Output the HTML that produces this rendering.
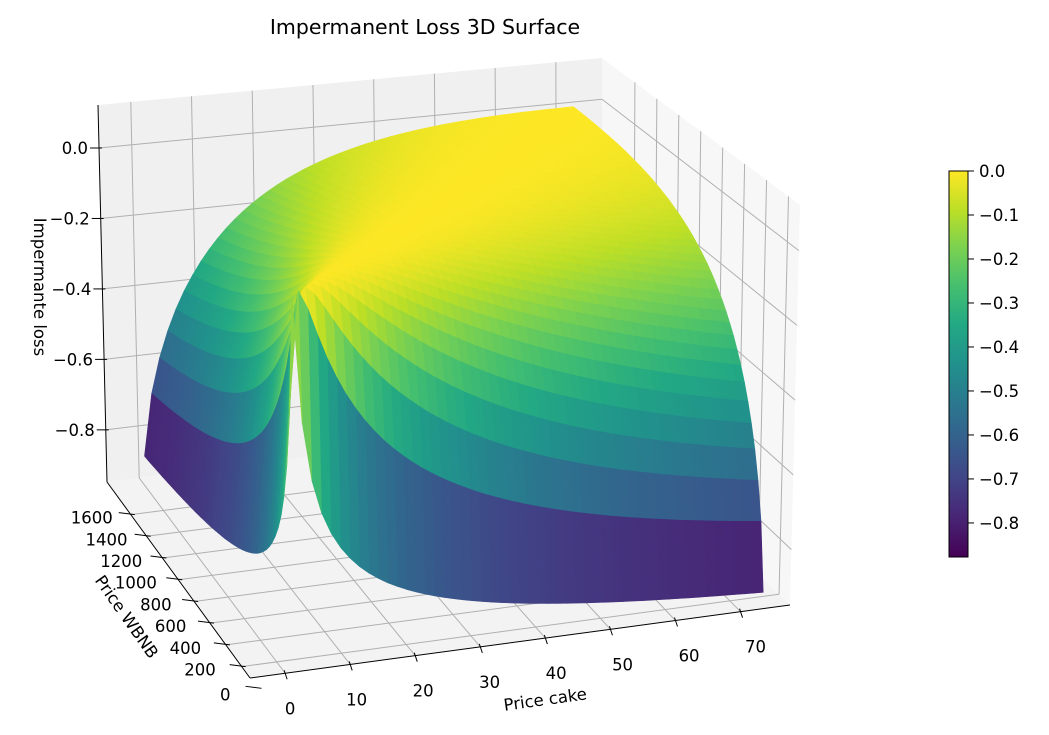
<!DOCTYPE html>
<html><head><meta charset="utf-8"><style>
html,body{margin:0;padding:0;background:#fff;}
svg{display:block;font-family:"DejaVu Sans","Liberation Sans",sans-serif;}
</style></head><body>
<svg id="chart" width="1049" height="735" viewBox="0 0 1049 735" xmlns="http://www.w3.org/2000/svg">
<defs>
<linearGradient id="vir" x1="0" y1="1" x2="0" y2="0">
<stop offset="0" stop-color="#440154"/><stop offset="0.1" stop-color="#482475"/><stop offset="0.2" stop-color="#414487"/><stop offset="0.3" stop-color="#355f8d"/><stop offset="0.4" stop-color="#2a788e"/><stop offset="0.5" stop-color="#21918c"/><stop offset="0.6" stop-color="#22a884"/><stop offset="0.7" stop-color="#44bf70"/><stop offset="0.8" stop-color="#7ad151"/><stop offset="0.9" stop-color="#bddf26"/><stop offset="1" stop-color="#fde725"/>
</linearGradient>
</defs>
<g id="panes"></g>
<g id="grid"></g>
<g id="surf"></g>
<g id="axes"></g>
<text x="425" y="34" text-anchor="middle" font-size="20.5">Impermanent Loss 3D Surface</text>
<text x="0" y="0" font-size="16.5" text-anchor="middle" transform="translate(34,287) rotate(90)">Impermante loss</text>
<text x="0" y="0" font-size="16.5" text-anchor="middle" transform="translate(122,620) rotate(55)">Price WBNB</text>
<text x="0" y="0" font-size="16.5" text-anchor="middle" transform="translate(546,705) rotate(-8)">Price cake</text>
<g id="cbar">
<rect x="949" y="171" width="19" height="386" fill="url(#vir)" stroke="#000" stroke-width="1"/>
</g>
</svg>
<script>
// ---- data ----
const cakeRange = [0.3, 72];
const wbnbRange = [7, 1850];
const gridCount = 50;
const cakeTicks = [0, 10, 20, 30, 40, 50, 60, 70];
const wbnbTicks = [0, 200, 400, 600, 800, 1000, 1200, 1400, 1600];
const zTicks = [0.0, -0.2, -0.4, -0.6, -0.8];
const cbarTicks = [0.0, -0.1, -0.2, -0.3, -0.4, -0.5, -0.6, -0.7, -0.8];
const viridis = ["#440154","#482475","#414487","#355f8d","#2a788e","#21918c","#22a884","#44bf70","#7ad151","#bddf26","#fde725"];

const NS = "http://www.w3.org/2000/svg";
const FS = 16.5;
const X0 = -5.4, X1 = 77.6, Y0 = 95, Y1 = 1900, Z0 = -0.948, Z1 = 0.122;
const A=[250,678],B=[790,605],C=[107,482],D=[602,420];
const At=[246,240],Bt=[800,205],Ct=[98,105],Dt=[602,58];
function bil(p,q,r,s,u,v){return [p[0]*(1-u)*(1-v)+q[0]*u*(1-v)+r[0]*(1-u)*v+s[0]*u*v, p[1]*(1-u)*(1-v)+q[1]*u*(1-v)+r[1]*(1-u)*v+s[1]*u*v];}
function P(u,v,t){const f=bil(A,B,C,D,u,v), g=bil(At,Bt,Ct,Dt,u,v);return [f[0]*(1-t)+g[0]*t, f[1]*(1-t)+g[1]*t];}
const xs=c=>(c-X0)/(X1-X0), ys=w=>(w-Y0)/(Y1-Y0), zs=z=>(z-Z0)/(Z1-Z0);
function proj(c,w,z){return P(xs(c),ys(w),zs(z));}
function hex(h){return [parseInt(h.substr(1,2),16),parseInt(h.substr(3,2),16),parseInt(h.substr(5,2),16)];}
function cmap(f){f=Math.max(0,Math.min(1,f));const x=f*10,i=Math.min(9,Math.floor(x)),t=x-i;const a=hex(viridis[i]),b=hex(viridis[i+1]);return "rgb("+a.map((v,k)=>Math.round(v+(b[k]-v)*t)).join(",")+")";}
function el(tag,attrs,parent){const e=document.createElementNS(NS,tag);for(const k in attrs)e.setAttribute(k,attrs[k]);parent.appendChild(e);return e;}
function pts(a){return a.map(p=>p[0].toFixed(1)+","+p[1].toFixed(1)).join(" ");}

// panes
const panes=document.getElementById("panes");
let e;
e=el("polygon",{points:pts([P(0,1,0),P(1,1,0),P(1,1,1),P(0,1,1)]),fill:"#f0f0f0"},panes);


e=el("polygon",{points:pts([P(1,0,0),P(1,1,0),P(1,1,1),P(1,0,1)]),fill:"#f7f7f7"},panes);


e=el("polygon",{points:pts([P(0,0,0),P(1,0,0),P(1,1,0),P(0,1,0)]),fill:"#f3f3f3"},panes);



// gridlines
const grid=document.getElementById("grid");
function gl(p,q,name){const l=el("line",{x1:p[0],y1:p[1],x2:q[0],y2:q[1],stroke:"#b0b0b0","stroke-width":1},grid);

}
cakeTicks.forEach(c=>{const u=xs(c);gl(P(u,1,0),P(u,1,1),'gridline-cake-back');gl(P(u,0,0),P(u,1,0),'gridline-cake-floor');});
wbnbTicks.forEach(w=>{const v=ys(w);if(v<0)return;gl(P(1,v,0),P(1,v,1),'gridline-wbnb-right');gl(P(0,v,0),P(1,v,0),'gridline-wbnb-floor');});
zTicks.forEach(z=>{const t=zs(z);gl(P(0,1,t),P(1,1,t),'gridline-z-back');gl(P(1,0,t),P(1,1,t),'gridline-z-right');});

// surface
const surf=document.getElementById("surf");
const k=cakeRange[1]/wbnbRange[1];
function il(c,w){const r=(c/w)/k;return 2*Math.sqrt(r)/(1+r)-1;}
const cs=[],ws=[];
for(let i=0;i<=gridCount;i++){cs.push(cakeRange[0]+(cakeRange[1]-cakeRange[0])*i/gridCount);ws.push(wbnbRange[0]+(wbnbRange[1]-wbnbRange[0])*i/gridCount);}
let zmin=0,zmax=-9;
for(const c of cs)for(const w of ws){const z=il(c,w);zmin=Math.min(zmin,z);zmax=Math.max(zmax,z);}
const facets=[];
for(let i=0;i<gridCount;i++)for(let j=0;j<gridCount;j++){
  const q=[[cs[i],ws[j]],[cs[i+1],ws[j]],[cs[i+1],ws[j+1]],[cs[i],ws[j+1]]];
  let zsum=0;const p=q.map(([c,w])=>{const z=il(c,w);zsum+=z;return proj(c,w,z);});
  const uc=xs((cs[i]+cs[i+1])/2),vc=ys((ws[j]+ws[j+1])/2);
  facets.push({p,z:zsum/4,d:73*uc+196*vc});
}
facets.sort((a,b)=>b.d-a.d);
for(const f of facets){const col=cmap((f.z-zmin)/(zmax-zmin));
  const pg=el("polygon",{points:pts(f.p),fill:col,stroke:col,"stroke-width":0.6,"stroke-linejoin":"round"},surf);
  
  }

// axes
const axes=document.getElementById("axes");
function line(p,q,name,w){const l=el("line",{x1:p[0],y1:p[1],x2:q[0],y2:q[1],stroke:"#000","stroke-width":w||1},axes);

}
function txt(x,y,s,anchor,name){const t=el("text",{x:x,y:y,"font-size":FS,"text-anchor":anchor},axes);t.textContent=s;

}
line(P(0,0,0),P(1,0,0),'x-axis-line');
line(P(0,0,0),P(0,1,0),'y-axis-line');
line(P(0,1,0),P(0,1,1),'z-axis-line');
cakeTicks.forEach(c=>{const u=xs(c),p=P(u,0,0);line([p[0]-1,p[1]-3],[p[0]+2,p[1]+6],'x-tick');
  const dx=5+10*(c/70);txt(p[0]+dx,p[1]+41,String(c),"middle",'x-tick-label');});
wbnbTicks.forEach(w=>{const v=ys(w),p=P(0,v,0);line([p[0]+4,p[1]],[p[0]-12,p[1]-2],'y-tick');
  const dx=-27+9*(w/1600);txt(p[0]+dx,p[1]+9+(w===0?3:0),String(w),"end",'y-tick-label');});
zTicks.forEach(z=>{const p=P(0,1,zs(z));line([p[0]-9,p[1]],[p[0]+3,p[1]],'z-tick');
  txt(p[0]-11,p[1]+6,(z===0?"0.0":"\u2212"+Math.abs(z).toFixed(1)),"end",'z-tick-label');});

// colorbar ticks
const cbar=document.getElementById("cbar");
const cbTop=171,cbBot=557,cbMin=zmin;
cbarTicks.forEach(v=>{const y=cbTop+(v/cbMin)*(cbBot-cbTop);
  const l=el("line",{x1:968,y1:y,x2:974,y2:y,stroke:"#000","stroke-width":1},cbar);
  
  
  const t=el("text",{x:979,y:y+6,"font-size":FS},cbar);t.textContent=(v===0?"0.0":"\u2212"+Math.abs(v).toFixed(1));
  
  });
</script>
</body></html>
